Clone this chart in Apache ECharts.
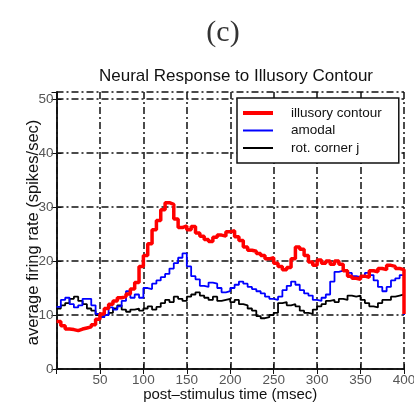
<!DOCTYPE html>
<html><head><meta charset="utf-8">
<script src="https://cdn.jsdelivr.net/npm/echarts@6/dist/echarts.min.js"></script>
<style>html,body{margin:0;padding:0;background:#fff}#c{width:414px;height:404px}</style>
</head><body><div id="c"></div>
<script>
const timeMs = [0,5,10,15,20,25,30,35,40,45,50,55,60,65,70,75,80,85,90,95,100,105,110,115,120,125,130,135,140,145,150,155,160,165,170,175,180,185,190,195,200,205,210,215,220,225,230,235,240,245,250,255,260,265,270,275,280,285,290,295,300,305,310,315,320,325,330,335,340,345,350,355,360,365,370,375,380,385,390,395,400];
const illusory = [8.8,8.0,7.4,7.3,7.1,7.4,7.6,7.8,8.2,9.2,10.2,11.2,12.0,12.6,13.2,13.4,13.9,14.8,16.0,19.0,21.0,23.2,25.8,27.5,29.5,30.8,30.5,27.8,26.2,26.5,25.8,26.4,25.2,24.6,24.0,23.6,24.4,24.8,24.6,25.4,25.6,24.5,23.8,22.6,22.0,21.8,21.4,21.0,20.4,20.6,19.6,19.0,18.4,18.8,20.4,22.6,22.2,21.0,19.8,19.2,20.2,19.6,20.0,19.4,20.0,19.4,18.2,17.2,16.8,16.6,17.2,17.0,18.2,18.0,18.6,18.4,19.2,19.0,18.6,18.4,10.2];
const amodal = [11.5,12.8,13.2,12.0,11.4,11.8,13.0,13.0,11.8,10.2,9.6,10.0,11.4,11.0,11.6,12.6,14.4,13.2,13.8,13.2,15.0,14.8,15.8,16.4,17.0,17.6,18.6,19.6,20.6,21.4,19.0,17.2,16.6,15.4,15.2,16.0,15.8,15.0,14.2,14.4,15.0,15.6,16.2,15.8,15.2,14.8,14.4,14.0,13.4,13.0,12.8,13.4,14.6,15.4,16.2,15.6,14.6,14.0,13.6,12.8,12.6,13.2,13.8,16.2,18.0,18.2,18.3,17.8,17.2,17.0,17.2,17.8,17.4,16.4,15.2,14.4,15.2,16.4,16.8,17.4,10.0];
const rotCorner = [11.2,11.8,12.2,13.0,13.4,12.6,12.0,11.2,10.8,10.0,9.6,10.0,10.4,11.2,11.8,11.0,10.6,11.0,11.2,10.8,11.2,11.6,11.0,11.5,12.2,12.8,12.4,13.4,13.0,12.6,13.4,13.8,14.2,13.6,13.2,12.8,13.4,12.6,12.8,13.0,12.4,12.8,12.0,11.8,11.2,10.8,9.8,9.4,9.6,10.0,10.4,12.2,12.4,11.8,12.0,11.6,10.8,10.4,10.2,11.0,11.6,12.0,12.6,12.8,12.4,13.0,12.8,13.6,13.4,13.6,12.8,12.2,11.6,11.4,12.2,12.8,12.8,13.4,13.6,13.8,10.0];
const seriesNames = ['illusory contour','amodal','rot. corner j'];

const pair = a => timeMs.map((t,i)=>[t,a[i]]);
const chart = echarts.init(document.getElementById('c'));
const dashDot = [7,3,2,3];
const font = '"Liberation Sans", Arial, sans-serif';
chart.setOption({
  animation:false,
  backgroundColor:'#fff',
  title:[
    {text:'(c)', left:218, top:13, textAlign:'center', textStyle:{fontFamily:'"Liberation Serif","DejaVu Serif",serif', fontSize:30, fontWeight:'normal', color:'#333'}},
    {text:'Neural Response to Illusory Contour', left:231, top:63, textAlign:'center', textStyle:{fontFamily:font, fontSize:17, fontWeight:'normal', color:'#111'}}
  ],
  legend:{
    data:[
      {name:seriesNames[0], icon:'path://M0,0h30v4h-30z'},
      {name:seriesNames[1], icon:'path://M0,0h30v2h-30z'},
      {name:seriesNames[2], icon:'path://M0,0h30v2h-30z'}
    ],
    orient:'vertical', left:237, top:98, symbolKeepAspect:true,
    backgroundColor:'#fff', borderColor:'#111', borderWidth:1.5, borderRadius:0,
    padding:[8,17,8,6], itemGap:3.5, itemWidth:30, itemHeight:13,
    textStyle:{fontFamily:font, fontSize:13.5, color:'#111', padding:[0,0,0,13]}
  },
  grid:{left:56.5, right:10, top:92, bottom:35, outerBoundsMode:'none', containLabel:false},
  xAxis:[
    {type:'value', min:0, max:400, interval:50,
     name:'post\u2013stimulus time (msec)', nameLocation:'middle', nameGap:18, nameMoveOverlap:false,
     nameTextStyle:{fontFamily:font, fontSize:15, color:'#111'},
     axisLine:{show:true, lineStyle:{color:'#111', width:1.5}},
     axisTick:{show:true, inside:true, length:5, lineStyle:{color:'#111'}},
     axisLabel:{showMinLabel:false, fontFamily:font, fontSize:13.5, color:'#555', margin:4},
     splitLine:{show:true, lineStyle:{color:'#111', width:1.5, type:dashDot}}},
    {type:'value', position:'top', min:0, max:400, interval:50,
     axisLine:{show:true, lineStyle:{color:'#111', width:1.5}},
     axisTick:{show:true, inside:true, length:5, lineStyle:{color:'#111'}},
     axisLabel:{show:false}, splitLine:{show:false}}
  ],
  yAxis:[
    {type:'value', min:0, max:51.3, interval:10,
     name:'average firing rate (spikes/sec)', nameLocation:'middle', nameGap:15, nameMoveOverlap:false,
     nameTextStyle:{fontFamily:font, fontSize:16.5, color:'#111', padding:[0,4,0,0]},
     axisLine:{show:true, lineStyle:{color:'#111', width:1.5}},
     axisTick:{show:true, inside:true, length:5, lineStyle:{color:'#111'}},
     axisLabel:{showMaxLabel:false, fontFamily:font, fontSize:13.5, color:'#555', margin:3},
     splitLine:{show:true, lineStyle:{color:'#111', width:1.5, type:dashDot}}},
    {type:'value', position:'right', min:0, max:51.3, interval:10,
     axisLine:{show:true, lineStyle:{color:'#111', width:1.5}},
     axisTick:{show:true, inside:true, length:5, lineStyle:{color:'#111'}},
     axisLabel:{show:false}, splitLine:{show:false}}
  ],
  series:[
    {name:seriesNames[0], type:'line', step:'end', data:pair(illusory), symbol:'none', lineStyle:{color:'#ff0000', width:3.5}, itemStyle:{color:'#ff0000'}, z:3},
    {name:seriesNames[1], type:'line', step:'end', data:pair(amodal), symbol:'none', lineStyle:{color:'#0000ff', width:1.8}, itemStyle:{color:'#0000ff'}, z:2},
    {name:seriesNames[2], type:'line', step:'end', data:pair(rotCorner), symbol:'none', lineStyle:{color:'#000', width:1.8}, itemStyle:{color:'#000'}, z:1}
  ]
});
</script></body></html>
